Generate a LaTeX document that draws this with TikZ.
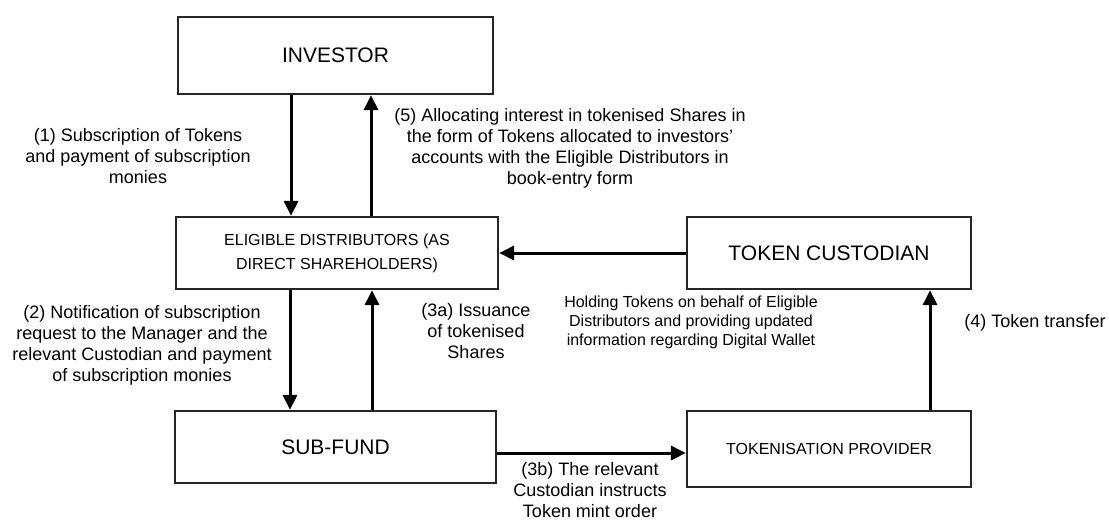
\documentclass[tikz,border=0pt]{standalone}
\usepackage{fontspec}
\setmainfont{Liberation Sans}
\usetikzlibrary{arrows.meta}
\begin{document}
\begin{tikzpicture}[x=1pt,y=-1pt,
  box/.style={draw=black!85, line width=2.2pt, inner sep=0pt, align=center, fill=white},
  bigtext/.style={font=\fontsize{21}{25}\selectfont},
  smalltext/.style={font=\fontsize{16}{24}\selectfont},
  arr/.style={line width=3pt, draw=black, -{Triangle[length=15pt,width=14pt]}},
  lbl/.style={align=center, inner sep=0pt, font=\fontsize{18}{21}\selectfont},
  ]
\useasboundingbox (0,0) rectangle (1109,520);
\node[box, bigtext, minimum width=315pt, minimum height=77pt] (inv) at (335.5,55.5) {INVESTOR};
\node[box, smalltext, minimum width=322pt, minimum height=72pt] (ed) at (337,253) {ELIGIBLE DISTRIBUTORS (AS\\DIRECT SHAREHOLDERS)};
\node[box, bigtext, minimum width=321pt, minimum height=72pt] (sf) at (335.5,447) {SUB-FUND};
\node[box, bigtext, minimum width=284pt, minimum height=72pt] (tc) at (829,253) {TOKEN CUSTODIAN};
\node[box, smalltext, minimum width=284pt, minimum height=76pt] (tp) at (829,449) {TOKENISATION PROVIDER};

\draw[arr] (inv.south -| 291,0) -- (ed.north -| 291,0);
\draw[arr] (ed.north -| 371,0) -- (inv.south -| 371,0);
\draw[arr] (ed.south -| 290,0) -- (sf.north -| 290,0);
\draw[arr] (sf.north -| 372,0) -- (ed.south -| 372,0);
\draw[arr] (tc.west) -- (ed.east);
\draw[arr] (sf.east |- 0,453) -- (tp.west |- 0,453);
\draw[arr] (tp.north -| 930,0) -- (tc.south -| 930,0);

\node[lbl] (l1) at (138,156) {(1) Subscription of Tokens\\and payment of subscription\\monies};
\node[lbl] (l2) at (142,345.5) {(2) Notification of subscription\\request to the Manager and the\\relevant Custodian and payment\\of subscription monies};
\node[lbl] (l5) at (570,148.5) {(5) Allocating interest in tokenised Shares in\\the form of Tokens allocated to investors’\\accounts with the Eligible Distributors in\\book-entry form};
\node[lbl] (l3a) at (476,331) {(3a) Issuance\\of tokenised\\Shares};
\node[lbl, font=\fontsize{16}{19}\selectfont] (lh) at (691,322) {Holding Tokens on behalf of Eligible\\Distributors and providing updated\\information regarding Digital Wallet};
\node[lbl] (l4) at (1035,323) {(4) Token transfer};
\node[lbl] (l3b) at (590,490) {(3b) The relevant\\Custodian instructs\\Token mint order};
\end{tikzpicture}
\end{document}
